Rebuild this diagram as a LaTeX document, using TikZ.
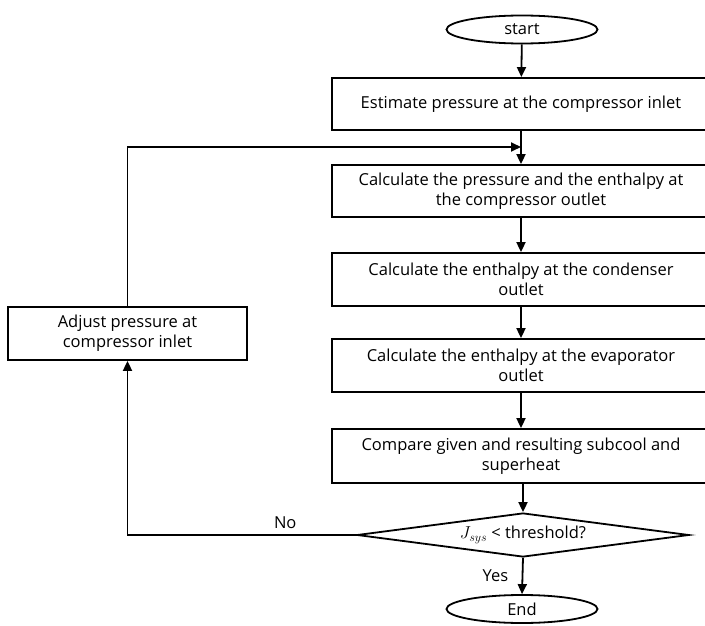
\documentclass[tikz,border=0pt]{standalone}
\usepackage{fontspec}
\setmainfont{Open Sans}
\usetikzlibrary{shapes.geometric,arrows.meta}
\begin{document}
\begin{tikzpicture}[x=1pt,y=-1pt,
  lbl/.style={font=\fontsize{16.5}{20}\selectfont},
  box/.style={draw, line width=1.8pt, rectangle, minimum width=378pt, minimum height=52pt, inner sep=0pt, align=center, lbl},
  term/.style={draw, line width=1.8pt, ellipse, minimum width=151pt, minimum height=28pt, inner sep=0pt, lbl},
  decision/.style={draw, line width=1.8pt, diamond, aspect=7.5, minimum width=332pt, minimum height=44pt, inner sep=0pt, lbl},
  arr/.style={line width=1.8pt, -{Triangle[length=10pt,width=9pt]}}
]
\useasboundingbox (0,0) rectangle (705,626);
\clip (0,0) rectangle (705,626);
\node[term] (start) at (522,29.5) {start};
\node[box] (b1) at (521,104) {Estimate pressure at the compressor inlet};
\node[box] (b2) at (521,191) {Calculate the pressure and the enthalpy at\\the compressor outlet};
\node[box, minimum height=53pt] (b3) at (521,279.5) {Calculate the enthalpy at the condenser\\outlet};
\node[box, minimum height=53pt] (b4) at (521,365.5) {Calculate the enthalpy at the evaporator\\outlet};
\node[box, minimum height=54pt] (b5) at (521,456) {Compare given and resulting subcool and\\superheat};
\node[decision] (dec) at (523,535) {$J_{sys}$ < threshold?};
\node[term] (end) at (522,609) {End};
\node[box, minimum width=239pt, minimum height=53pt] (adj) at (127.5,333.5) {Adjust pressure at\\compressor inlet};
\coordinate (join) at (521,147);

\draw[arr] (start) -- (b1);
\draw[arr] (b1.south -| join) -- (b2.north -| join);
\draw[arr] (b2.south -| join) -- (b3.north -| join);
\draw[arr] (b3.south -| join) -- (b4.north -| join);
\draw[arr] (b4.south -| join) -- (b5.north -| join);
\draw[arr] (b5.south -| dec) -- (dec.north);
\draw[arr] (dec.south) -- node[midway, left=10pt, lbl]{Yes} (end.north);
\draw[arr] (dec.west) -| node[pos=0.155, above=2pt, lbl]{No} (adj.south);
\draw[arr] (adj.north) |- (join);
\end{tikzpicture}
\end{document}
